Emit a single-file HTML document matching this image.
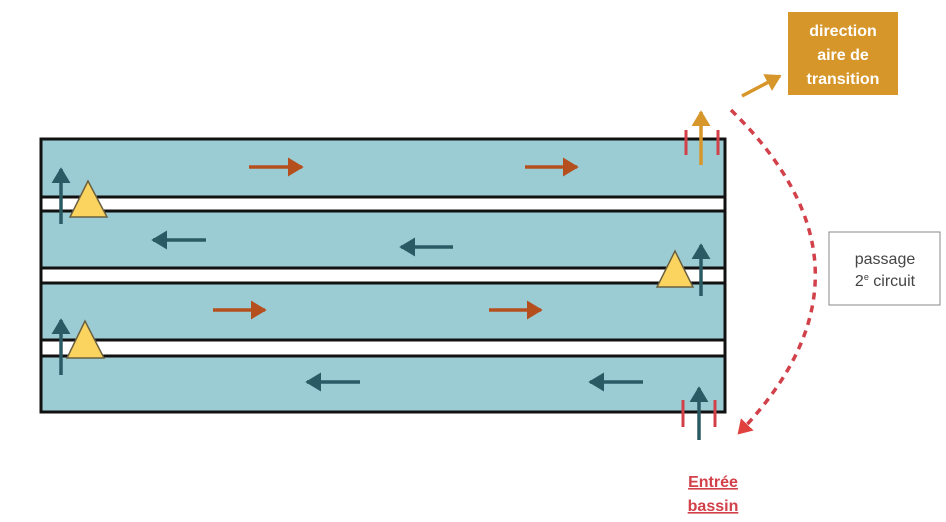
<!DOCTYPE html>
<html><head><style>
body{margin:0;background:#fff;width:946px;height:522px;overflow:hidden}
svg{display:block}
text{font-family:"Liberation Sans",sans-serif}
</style></head><body>
<svg width="946" height="522" viewBox="0 0 946 522" xmlns="http://www.w3.org/2000/svg">
<defs>
<marker id="ao" markerWidth="6" markerHeight="6" refX="4" refY="3" orient="auto" markerUnits="strokeWidth"><path d="M0,0.3 L4.5,3 L0,5.7 z" fill="#B5501E"/></marker>
<marker id="ad" markerWidth="6" markerHeight="6" refX="4" refY="3" orient="auto" markerUnits="strokeWidth"><path d="M0,0.3 L4.5,3 L0,5.7 z" fill="#2A5A63"/></marker>
<marker id="ay" markerWidth="6" markerHeight="6" refX="4" refY="3" orient="auto" markerUnits="strokeWidth"><path d="M0,0.3 L4.5,3 L0,5.7 z" fill="#D7962A"/></marker>
<marker id="ar" markerWidth="5" markerHeight="5" refX="3" refY="2.5" orient="auto" markerUnits="strokeWidth"><path d="M0,0 L4,2.5 L0,5 z" fill="#E0403E"/></marker>
</defs>
<rect x="41" y="139" width="684" height="273" fill="#9BCCD4" stroke="#111" stroke-width="3"/>
<g fill="#fff" stroke="#111" stroke-width="3">
<rect x="41" y="197" width="684" height="14"/>
<rect x="41" y="268" width="684" height="15"/>
<rect x="41" y="340" width="684" height="16"/>
</g>
<g stroke="#B5501E" stroke-width="3.5" marker-end="url(#ao)">
<line x1="249" y1="167" x2="302" y2="167"/><line x1="525" y1="167" x2="577" y2="167"/>
<line x1="213" y1="310" x2="265" y2="310"/><line x1="489" y1="310" x2="541" y2="310"/>
</g>
<g stroke="#2A5A63" stroke-width="3.5" marker-end="url(#ad)">
<line x1="206" y1="240" x2="153" y2="240"/><line x1="453" y1="247" x2="401" y2="247"/>
<line x1="360" y1="382" x2="307" y2="382"/><line x1="643" y1="382" x2="590" y2="382"/>
<line x1="61" y1="224" x2="61" y2="169"/><line x1="61" y1="375" x2="61" y2="320"/>
<line x1="701" y1="296" x2="701" y2="245"/><line x1="699" y1="440" x2="699" y2="388"/>
</g>
<g fill="#FAD45E" stroke="#6b6040" stroke-width="1.5">
<polygon points="88,181 70,217 107,217"/>
<polygon points="85,321 67,358 104,358"/>
<polygon points="675,251 657,287 693,287"/>
</g>
<g stroke="#D2404A" stroke-width="3">
<line x1="686" y1="130" x2="686" y2="155"/><line x1="718" y1="130" x2="718" y2="155"/>
<line x1="683" y1="400" x2="683" y2="427"/><line x1="715" y1="400" x2="715" y2="427"/>
</g>
<line x1="701" y1="165" x2="701" y2="112" stroke="#D7962A" stroke-width="3.5" marker-end="url(#ay)"/>
<line x1="742" y1="96" x2="780" y2="76" stroke="#D7962A" stroke-width="3.5" marker-end="url(#ay)"/>
<rect x="788" y="12" width="110" height="83" fill="#D7962A"/>
<g fill="#fff" font-weight="bold" font-size="16" text-anchor="middle">
<text x="843" y="36">direction</text><text x="843" y="60">aire de</text><text x="843" y="84">transition</text>
</g>
<path d="M731,110 Q895,270 740,432" fill="none" stroke="#D2404A" stroke-width="3.5" stroke-dasharray="7,6" marker-end="url(#ar)"/>
<rect x="829" y="232" width="111" height="73" fill="#fff" stroke="#888" stroke-width="1"/>
<g fill="#444" font-size="16" text-anchor="middle">
<text x="885" y="264">passage</text>
<text x="885" y="286">2<tspan font-size="9" dy="-6">e</tspan><tspan dy="6"> circuit</tspan></text>
</g>
<g fill="#D2404A" font-weight="bold" font-size="16" text-anchor="middle" text-decoration="underline">
<text x="713" y="487">Entrée</text><text x="713" y="511">bassin</text>
</g>
</svg>
</body></html>
